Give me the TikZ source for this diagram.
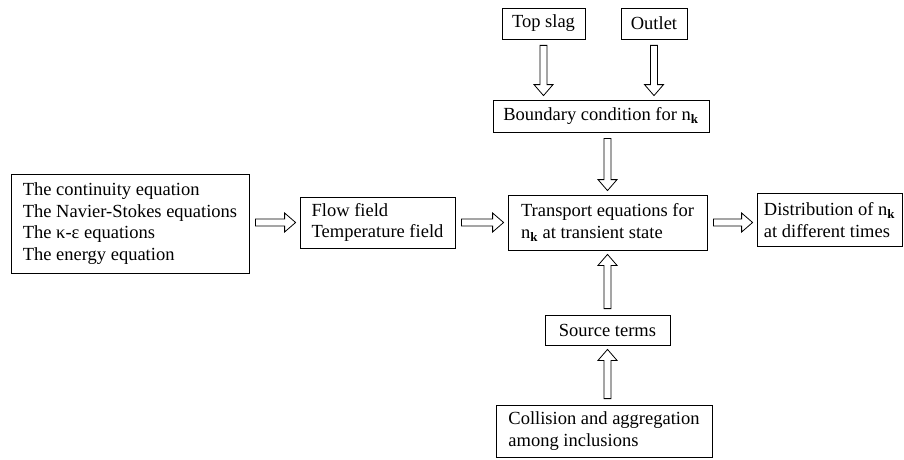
\documentclass[tikz,border=0pt]{standalone}
\usepackage{fontspec}
\setmainfont{Liberation Serif}
\usetikzlibrary{calc}
\newcommand{\nk}{n\textsubscript{\textbf{k}}}
\tikzset{
  main box/.style={draw,line width=0.8pt,inner sep=0pt,align=left,
    font=\fontsize{18.5}{21.5}\selectfont},
  hollow/.style={draw,line width=0.8pt,to path={
    let \p1=(\tikztostart), \p2=(\tikztotarget),
        \n1={atan2(\y2-\y1,\x2-\x1)}, \n2={veclen(\x2-\x1,\y2-\y1)} in
    {[shift={(\p1)},rotate=\n1]
      (6pt,-3.5pt) -- ({\n2-15pt},-3.5pt) -- ({\n2-15pt},-9.5pt)
      -- ({\n2-4pt},0pt) -- ({\n2-15pt},9.5pt) -- ({\n2-15pt},3.5pt)
      -- (6pt,3.5pt) -- cycle}}}
}
\begin{document}
\begin{tikzpicture}[x=1pt,y=-1pt]
        \useasboundingbox (0,0) rectangle (904,460);

        % Define boxes
        \node[main box,minimum width=238pt,minimum height=99pt] (eqs) at (130,223.5)
            {The continuity equation\\The Navier-Stokes equations\\The κ-ε equations\\The energy equation};
        \node[main box,minimum width=155pt,minimum height=51pt] (field) at (377.5,222.5)
            {Flow field\\Temperature field};
        \node[main box,minimum width=199pt,minimum height=55pt] (trans) at (607.5,222.5)
            {Transport equations for\\\nk{} at transient state};
        \node[main box,minimum width=145pt,minimum height=53pt] (dist) at (829.5,220)
            {Distribution of \nk\\at different times};
        \node[main box,minimum width=83pt,minimum height=31pt] (slag) at (543.5,23.5) {Top slag};
        \node[main box,minimum width=66pt,minimum height=31pt] (outlet) at (654,23.5) {Outlet};
        \node[main box,minimum width=216pt,minimum height=32pt] (bound) at (601,116)
            {Boundary condition for \nk};
        \node[main box,minimum width=125pt,minimum height=30pt] (source) at (607.5,330) {Source terms};
        \node[main box,minimum width=216pt,minimum height=52pt] (coll) at (604,431)
            {Collision and aggregation\\among inclusions};

        % Draw arrows
        \path[hollow]
            (eqs.east |- field.west) edge (field.west)
            (field.east) edge (trans.west)
            (trans.east) edge (dist.west |- trans.east)
            (slag.south) edge (slag.south |- bound.north)
            (outlet.south) edge (outlet.south |- bound.north)
            (bound.south -| trans.north) edge (trans.north)
            (source.north) edge (source.north |- trans.south)
            (coll.north -| source.south) edge (source.south);

\end{tikzpicture}
\end{document}
